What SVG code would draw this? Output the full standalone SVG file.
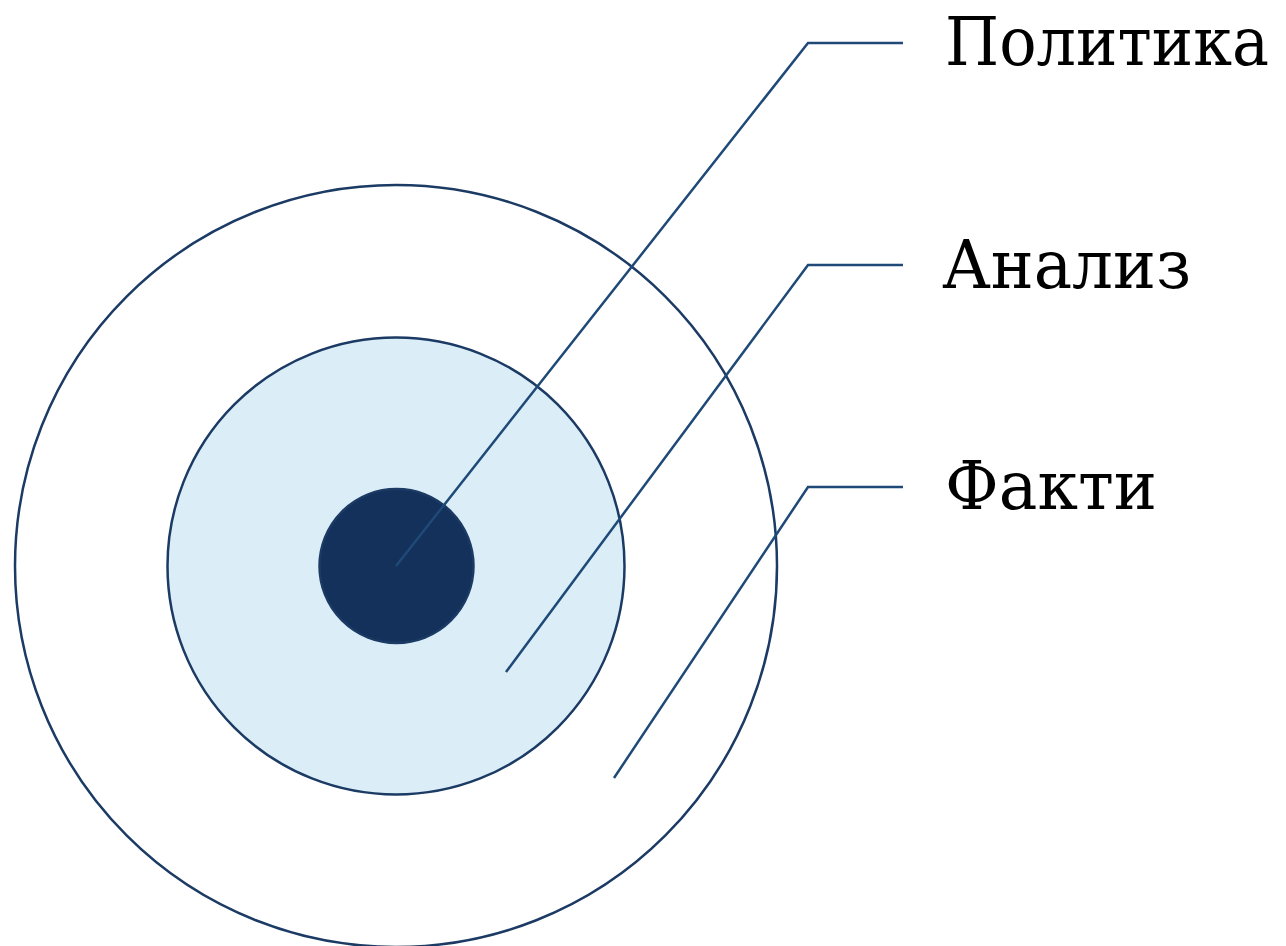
<svg xmlns="http://www.w3.org/2000/svg" width="1286" height="946" viewBox="0 0 1286 946">
<style>
.ring{stroke:#1b3a64;stroke-width:2.5}
.conn{fill:none;stroke:#1f4a78;stroke-width:2.5}
.lbl{font-family:"DejaVu Serif","Liberation Serif",serif;font-size:68px;fill:#000}
</style>
<rect width="1286" height="946" fill="#fff"/>
<g id="outer"><circle class="ring" cx="396" cy="566" r="381" fill="#fff"/></g>
<g id="middle"><circle class="ring" cx="396" cy="566" r="228.5" fill="#dbeef8"/></g>
<g id="inner"><circle class="ring" cx="396.5" cy="566" r="77" fill="#13315a"/></g>
<g id="connectors">
<polyline class="conn" points="396,566 808,43 903,43"/>
<polyline class="conn" points="506,672 808,265 903,265"/>
<polyline class="conn" points="614,778 808,487 903,487"/>
</g>
<g id="label-politika"><text class="lbl" x="945" y="65" textLength="324" lengthAdjust="spacingAndGlyphs">Политика</text></g>
<g id="label-analiz"><text class="lbl" x="942" y="288" textLength="249" lengthAdjust="spacingAndGlyphs">Анализ</text></g>
<g id="label-fakti"><text class="lbl" x="945" y="509" textLength="212" lengthAdjust="spacingAndGlyphs">Факти</text></g>
</svg>
